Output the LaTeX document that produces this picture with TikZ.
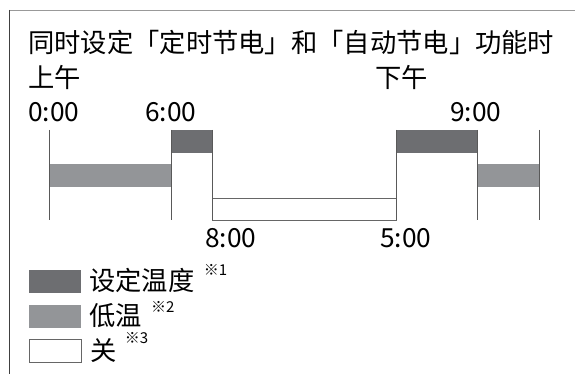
\documentclass[tikz,border=0pt]{standalone}
\usepackage{fontspec}
\newfontfamily\cjk{Noto Sans CJK SC}
\usepackage{xcolor}
\usetikzlibrary{positioning}
\definecolor{setgray}{HTML}{6D6E71}
\definecolor{lowgray}{HTML}{939598}

\begin{document}
\begin{tikzpicture}[x=1pt, y=-1pt,
    every node/.style={inner sep=0pt, anchor=base west, font=\cjk\fontsize{26.3}{26}\selectfont},
    note/.style={font=\cjk\fontsize{15}{15}\selectfont},
    tick/.style={draw=black!65, line width=0.8pt},
    setbar/.style={fill=setgray},
    lowbar/.style={fill=lowgray},
    offbar/.style={draw=black!60, fill=white, line width=0.8pt},
    key/.style={anchor=north west, minimum width=52pt, minimum height=23pt}]
    \useasboundingbox (0,0) rectangle (575,374);
    % frame
    \draw[black!40, line width=1.2pt] (9,10.5) -- (575,10.5);
    \draw[black!75, line width=1pt] (9.3,10) -- (9.3,374);
    % texts
    \node (title) at (28,53) {同时设定「定时节电」和「自动节电」功能时};
    \node (am) at (28,88) {上午};
    \node (pm) at (375,88) {下午};
    \node (t0) at (28,122) {0:00};
    \node (t6) at (145,122) {6:00};
    \node (t9) at (450,122) {9:00};
    \node (t8) at (205,247) {8:00};
    \node (t5) at (380,247) {5:00};
    % bars
    \fill[lowbar] (49,164) rectangle (171,187);
    \fill[setbar] (171,130) rectangle (212,153);
    \draw[offbar] (212,198) rectangle (396,220);
    \fill[setbar] (396,130) rectangle (477,153);
    \fill[lowbar] (477,164) rectangle (539,187);
    \foreach \x in {49,171,212,396,477,539}
        \draw[tick] (\x,130) -- (\x,220);
    % legend
    \node[key, fill=setgray] (keyset) at (29,270) {};
    \node[key, fill=lowgray] (keylow) at (29,305) {};
    \node[key, draw=black!60, line width=0.8pt] (keyoff) at (29,339) {};
    \node (legset) at (89,290) {设定温度};
    \node (leglow) at (89,325) {低温};
    \node (legoff) at (90,360) {关};
    \node[note] (n1) at ([xshift=9pt, yshift=15pt]legset.base east) {※1};
    \node[note] (n2) at ([xshift=9pt, yshift=13pt]leglow.base east) {※2};
    \node[note] (n3) at ([xshift=8pt, yshift=17pt]legoff.base east) {※3};
\end{tikzpicture}
\end{document}
